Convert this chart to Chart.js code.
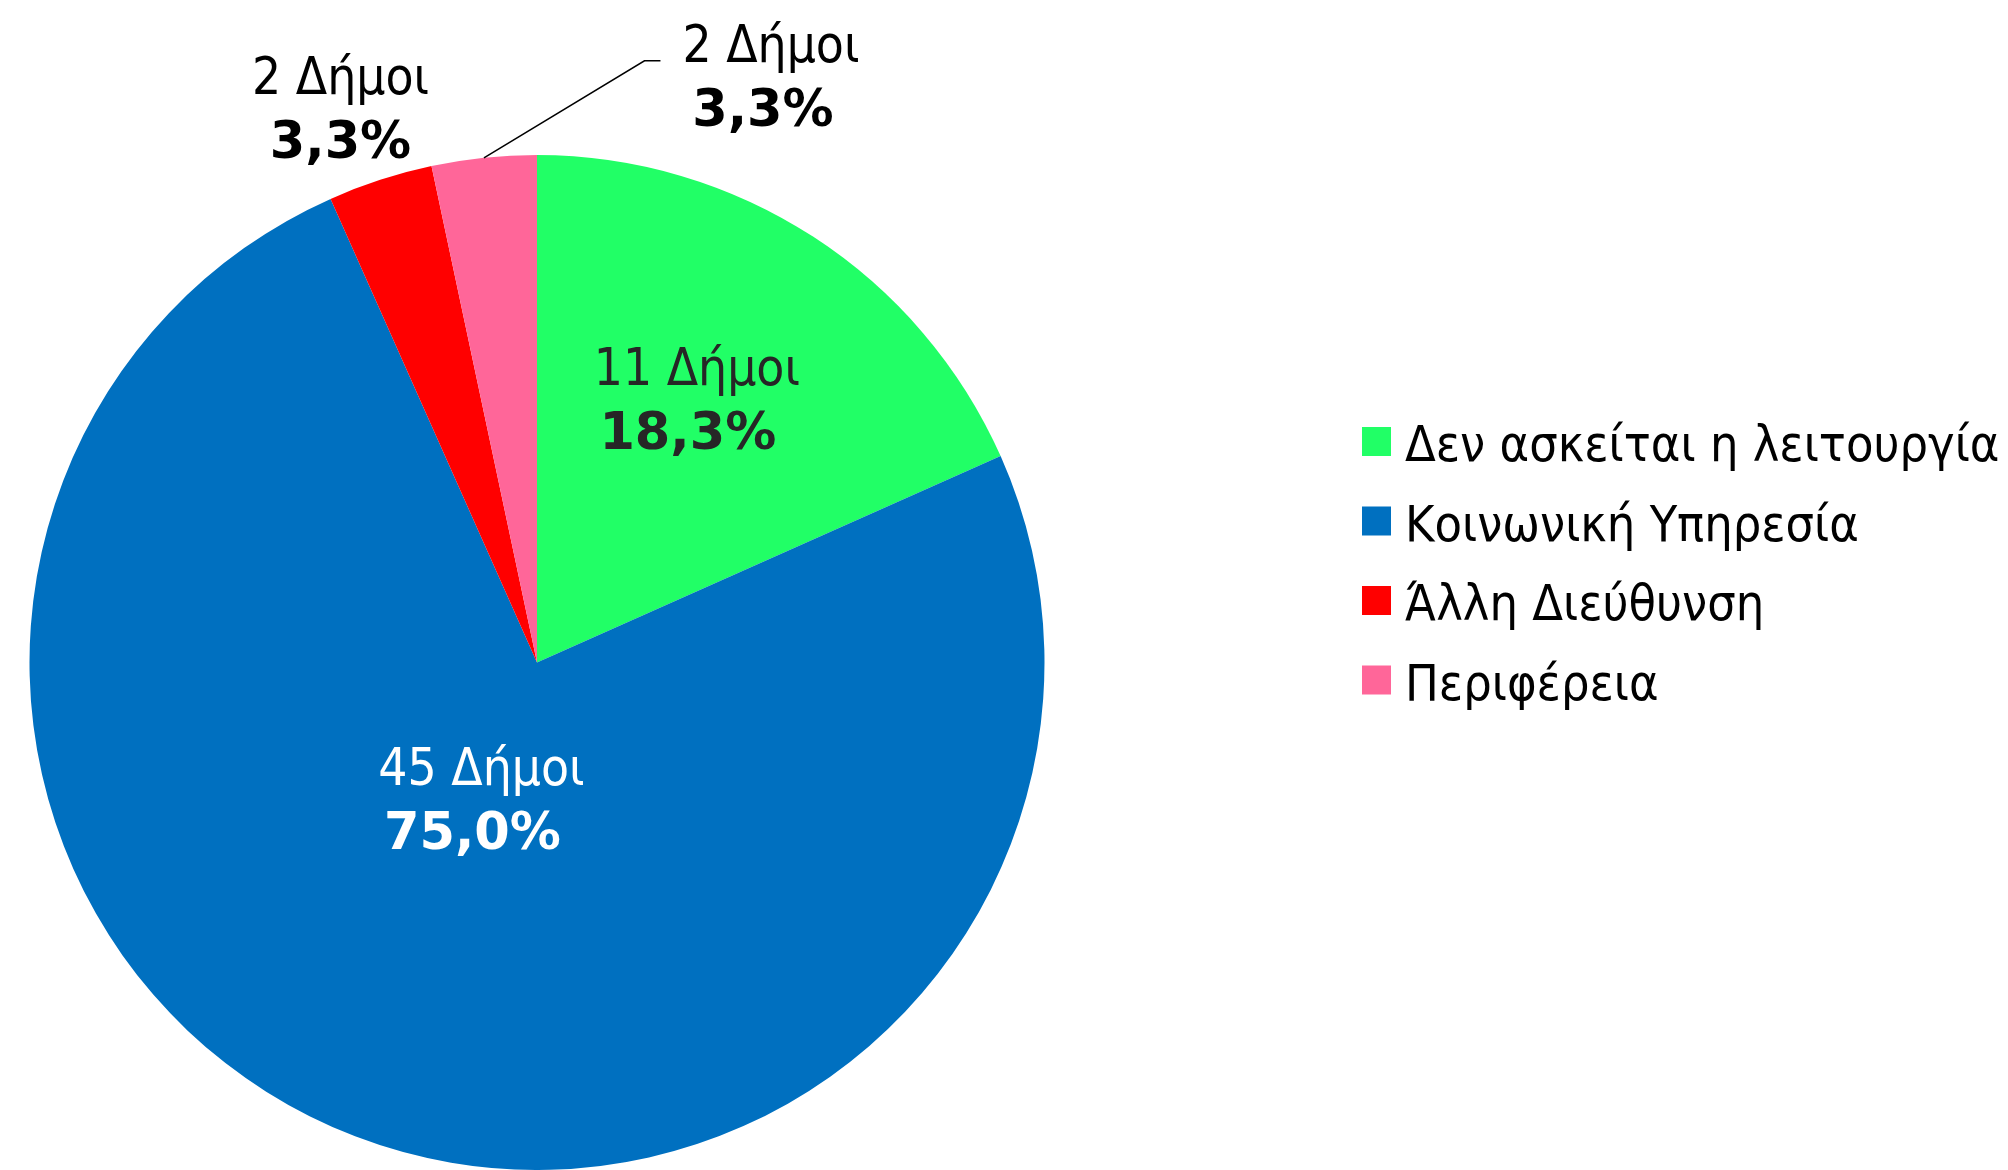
<!DOCTYPE html>
<html>
<head>
    <title>dimoi-pie</title>
    <meta charset="utf-8">
    <script src="https://cdn.jsdelivr.net/npm/chart.js"></script>
    <style>
        body { margin: 0; background: #fff; overflow: hidden; }
    </style>
</head>
<body>
    <canvas id="pie" width="2008" height="1170"></canvas>

    <script>
        // data
        const categories = ['Δεν ασκείται η λειτουργία', 'Κοινωνική Υπηρεσία', 'Άλλη Διεύθυνση', 'Περιφέρεια'];
        const dimoi = [11, 45, 2, 2];
        const percentLabels = ['18,3%', '75,0%', '3,3%', '3,3%'];
        const colors = ['#21FF66', '#0070C0', '#FF0000', '#FF6699'];

        const FONT = '"DejaVu Sans Condensed", "DejaVu Sans", sans-serif';
        const BOLD_FONT = '"DejaVu Sans", sans-serif';
        const FONT_SIZE = 51;

        // where each slice label sits: fraction of radius along the slice middle, plus a nudge
        const labelPlace = [
            { frac: 0.6, dx: -6, dy: -14, bdx: -9, color: '#262626' },
            { frac: 0.3, dx: -1, dy: -12, bdx: -9, color: '#ffffff' },
            { frac: 1.1, dx: -24, dy: -30, bdx: 0, color: '#000000' },
            { frac: 1.0, dx: 287, dy: -88, bdx: -8, color: '#000000', leader: true }
        ];

        const sliceLabels = {
            id: 'sliceLabels',
            afterDatasetsDraw(chart) {
                const ctx = chart.ctx;
                const arcs = chart.getDatasetMeta(0).data;
                ctx.save();
                ctx.textAlign = 'center';
                ctx.textBaseline = 'alphabetic';
                arcs.forEach((arc, i) => {
                    const p = labelPlace[i];
                    const mid = (arc.startAngle + arc.endAngle) / 2;
                    const ax = arc.x + Math.cos(mid) * arc.outerRadius * p.frac;
                    const ay = arc.y + Math.sin(mid) * arc.outerRadius * p.frac;
                    const x = ax + p.dx;
                    const y = ay + p.dy;
                    const line1 = dimoi[i] + ' Δήμοι';
                    const line2 = percentLabels[i];

                    ctx.fillStyle = p.color;
                    ctx.font = `${FONT_SIZE}px ${FONT}`;
                    const w1 = ctx.measureText(line1).width;
                    ctx.fillText(line1, x, y - 8);
                    ctx.font = `bold ${FONT_SIZE}px ${BOLD_FONT}`;
                    ctx.fillText(line2, x + p.bdx, y + 56);

                    if (p.leader) {
                        const endX = x - w1 / 2 - 22;
                        const ly = y - 9;
                        ctx.strokeStyle = '#000';
                        ctx.lineWidth = 1.5;
                        ctx.beginPath();
                        ctx.moveTo(ax, ay);
                        ctx.lineTo(endX - 16, ly);
                        ctx.lineTo(endX, ly);
                        ctx.stroke();
                    }
                });
                ctx.restore();
            }
        };

        const sideLegend = {
            id: 'sideLegend',
            afterDraw(chart) {
                const ctx = chart.ctx;
                const ds = chart.data.datasets[0];
                const left = 1362, top = 427, box = 29, pitch = 79.5;
                ctx.save();
                ctx.font = `50px ${FONT}`;
                ctx.textBaseline = 'alphabetic';
                ctx.textAlign = 'left';
                chart.data.labels.forEach((lab, i) => {
                    const y = top + i * pitch;
                    ctx.fillStyle = ds.backgroundColor[i];
                    ctx.fillRect(left, y, box, box);
                    ctx.fillStyle = '#000';
                    ctx.fillText(lab, left + 43, y + 34);
                });
                ctx.restore();
            }
        };

        new Chart(document.getElementById('pie'), {
            type: 'pie',
            data: {
                labels: categories,
                datasets: [{
                    data: dimoi,
                    backgroundColor: colors,
                    borderWidth: 0,
                    hoverOffset: 0,
                    offset: 0
                }]
            },
            options: {
                responsive: false,
                animation: false,
                layout: {
                    padding: { left: 29, right: 963, top: 155, bottom: 0 }
                },
                plugins: {
                    legend: { display: false },
                    tooltip: { enabled: false }
                }
            },
            plugins: [sliceLabels, sideLegend]
        });
    </script>
</body>
</html>
